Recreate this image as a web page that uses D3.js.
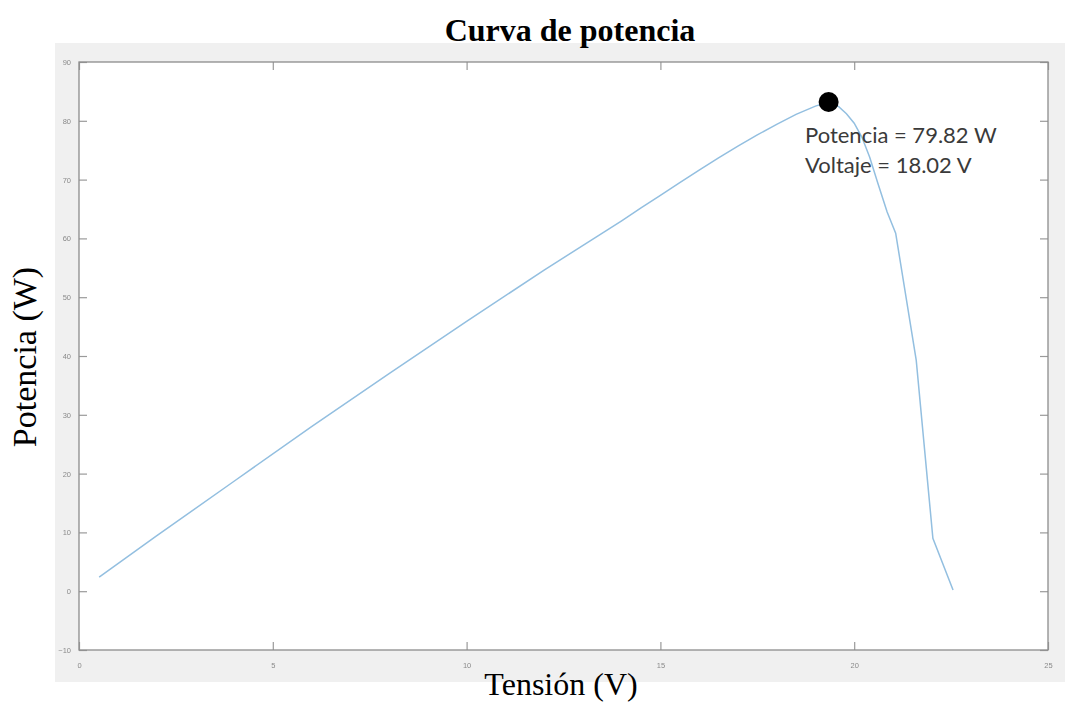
<!DOCTYPE html>
<html>
<head>
<meta charset="utf-8">
<script src="https://cdn.jsdelivr.net/npm/d3@7"></script>
<style>
  html, body { margin: 0; padding: 0; background: #ffffff; }
  svg { display: block; }
</style>
</head>
<body>
<svg id="chart" width="1065" height="703"></svg>
<script>
// P–V curve of the panel: voltage (V) and power (W)
const voltage = [0.52, 2, 4, 6, 8, 10, 12, 14, 14.5, 15, 15.5, 16, 16.5, 17, 17.5, 18, 18.5, 19, 19.34, 19.6, 19.8, 20.0, 20.2, 20.4, 20.6, 20.85, 21.07, 21.6, 22.03, 22.55];
const power   = [2.4, 9.4, 18.7, 28.0, 37.0, 45.9, 54.6, 63.0, 65.2, 67.3, 69.5, 71.6, 73.7, 75.7, 77.6, 79.4, 81.1, 82.5, 83.2, 82.4, 81.2, 79.6, 77.2, 73.8, 69.6, 64.5, 60.9, 39.3, 9.0, 0.2];

const xTicks = [0, 5, 10, 15, 20, 25];
const yTicks = [-10, 0, 10, 20, 30, 40, 50, 60, 70, 80, 90];

const titleText = "Curva de potencia";
const xLabelText = "Tensión (V)";
const yLabelText = "Potencia (W)";
const noteLines = ["Potencia = 79.82 W", "Voltaje = 18.02 V"];

const svg = d3.select("#chart");

const defs = svg.append("defs");
defs.append("filter").attr("id", "soft")
  .append("feGaussianBlur").attr("stdDeviation", 0.35);

// figure background panel
svg.append("rect")
  .attr("x", 55).attr("y", 43)
  .attr("width", 1010).attr("height", 639)
  .attr("fill", "#f0f0f0");

const x = d3.scaleLinear().domain([0, 25]).range([79, 1048]);
const y = d3.scaleLinear().domain([-10, 90]).range([650, 62]);

// axes box
svg.append("rect")
  .attr("x", x(0)).attr("y", y(90))
  .attr("width", x(25) - x(0)).attr("height", y(-10) - y(90))
  .attr("fill", "#ffffff");

const tickColor = "#9a9a9a";
const labelStyle = g => {
  g.select(".domain").remove();
  g.selectAll(".tick line").attr("stroke", tickColor).attr("stroke-width", 1.2);
  g.selectAll(".tick text")
    .attr("fill", "#8a8a8a")
    .attr("font-family", "Arial, 'Liberation Sans', sans-serif")
    .attr("font-size", 7.5)
    .attr("filter", "url(#soft)");
};

// bottom and left axes with ticks pointing inward
svg.append("g")
  .attr("transform", `translate(0,${y(-10)})`)
  .call(d3.axisBottom(x).tickValues(xTicks).tickSize(-8).tickPadding(13))
  .call(labelStyle);

svg.append("g")
  .attr("transform", `translate(${x(0)},0)`)
  .call(d3.axisLeft(y).tickValues(yTicks).tickSize(-8).tickPadding(8))
  .call(labelStyle);

// mirrored ticks on top and right
svg.append("g")
  .attr("transform", `translate(0,${y(90)})`)
  .call(d3.axisTop(x).tickValues(xTicks).tickSize(-8).tickFormat(""))
  .call(labelStyle);

svg.append("g")
  .attr("transform", `translate(${x(25)},0)`)
  .call(d3.axisRight(y).tickValues(yTicks).tickSize(-8).tickFormat(""))
  .call(labelStyle);

// axes frame
svg.append("rect")
  .attr("x", x(0)).attr("y", y(90))
  .attr("width", x(25) - x(0)).attr("height", y(-10) - y(90))
  .attr("fill", "none")
  .attr("stroke", "#8c8c8c")
  .attr("stroke-width", 1.3);

// power curve
const pts = voltage.map((v, i) => ({ v, p: power[i] }));
svg.append("path")
  .datum(pts)
  .attr("fill", "none")
  .attr("stroke", "#93bfe0")
  .attr("stroke-width", 1.5)
  .attr("d", d3.line().x(d => x(d.v)).y(d => y(d.p)));

// maximum power point
const mpp = d3.greatest(pts, d => d.p);
svg.append("circle")
  .attr("cx", x(mpp.v)).attr("cy", y(mpp.p))
  .attr("r", 10)
  .attr("fill", "#000000");

// annotation
const note = svg.append("text")
  .attr("font-family", "Lato, 'Open Sans', sans-serif")
  .attr("font-size", 22)
  .attr("fill", "#3a3a3a");
noteLines.forEach((t, i) => {
  note.append("tspan").attr("x", 805).attr("y", 143 + i * 30).text(t);
});

// title and axis labels
svg.append("text")
  .attr("x", 570).attr("y", 41)
  .attr("text-anchor", "middle")
  .attr("font-family", "'Liberation Serif', 'Times New Roman', serif")
  .attr("font-weight", "bold")
  .attr("font-size", 32)
  .attr("fill", "#000")
  .text(titleText);

svg.append("text")
  .attr("x", 561).attr("y", 695)
  .attr("text-anchor", "middle")
  .attr("font-family", "'Liberation Serif', 'Times New Roman', serif")
  .attr("font-size", 32)
  .attr("fill", "#000")
  .text(xLabelText);

svg.append("text")
  .attr("transform", "translate(36,357) rotate(-90)")
  .attr("text-anchor", "middle")
  .attr("font-family", "'Liberation Serif', 'Times New Roman', serif")
  .attr("font-size", 34)
  .attr("fill", "#000")
  .text(yLabelText);
</script>
</body>
</html>
